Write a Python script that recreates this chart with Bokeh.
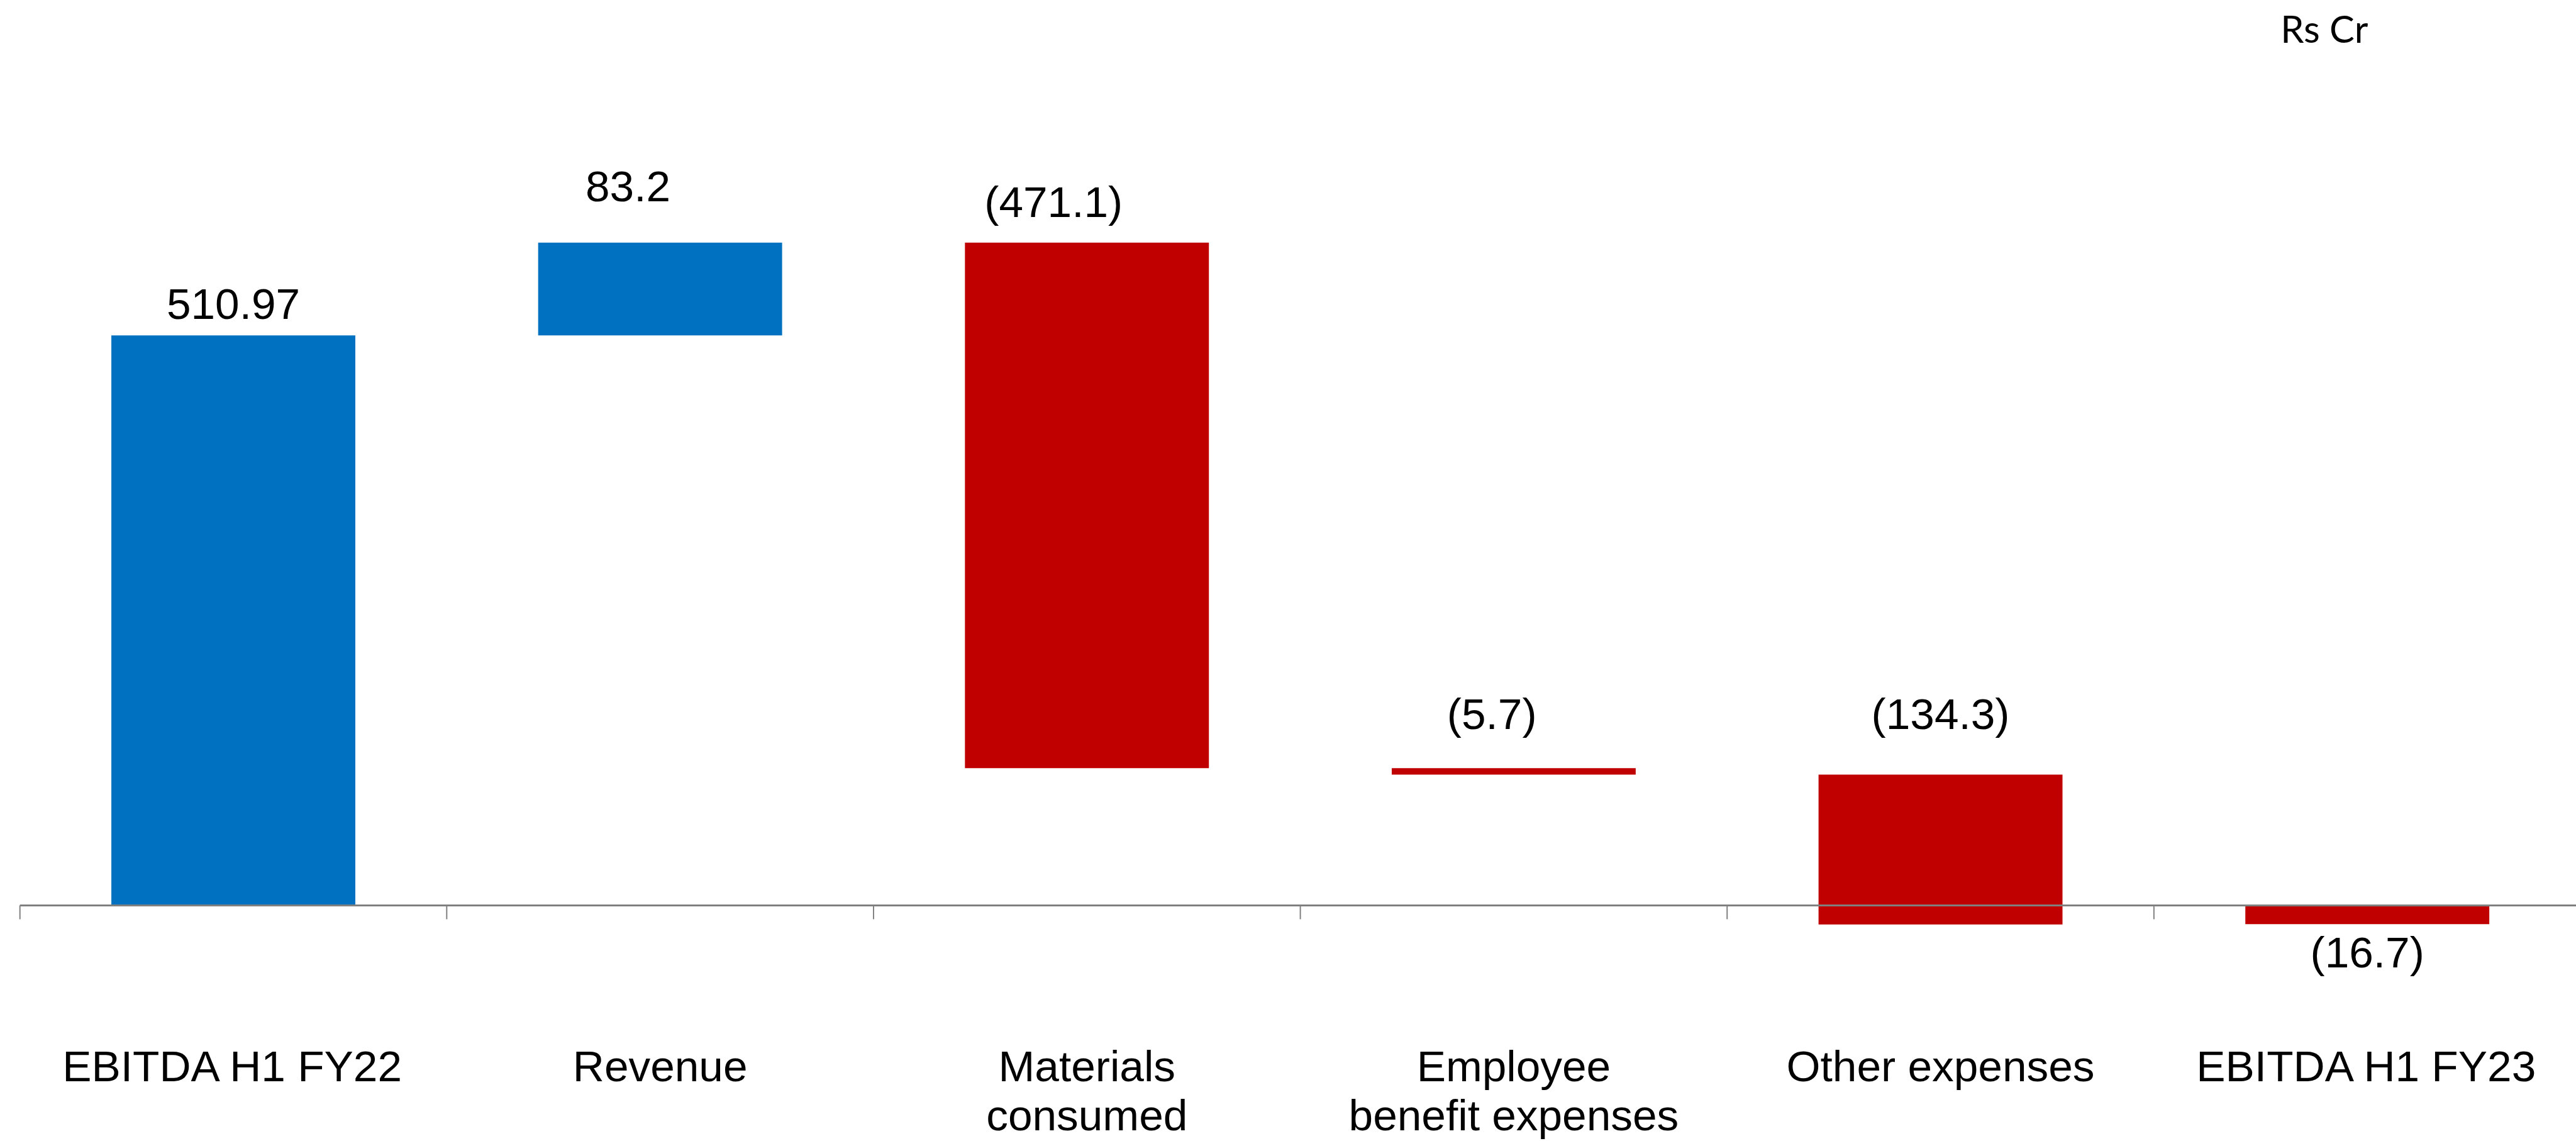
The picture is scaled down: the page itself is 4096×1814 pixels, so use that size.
from bokeh.plotting import figure
from bokeh.models import Range1d
from bokeh.embed import file_html
from bokeh.resources import INLINE
from bokeh.core.properties import value

# ---------------- data ----------------
categories = ["EBITDA H1 FY22", "Revenue", "Materials\nconsumed",
              "Employee\nbenefit expenses", "Other expenses", "EBITDA H1 FY23"]
steps = [510.97, 83.2, -471.1, -5.7, -134.3, -16.7]
is_total = [True, False, False, False, False, True]
value_labels = ["510.97", "83.2", "(471.1)", "(5.7)", "(134.3)", "(16.7)"]
unit_label = "Rs Cr"

# ---------------- layout / style ----------------
S = 0.992
W, H = 4096, 1814
REF_W, REF_H = 4129, 1829          # reference size (px)
ZERO_PX = 1451                      # y of value 0 in reference px
PX_PER_UNIT = 1.7885                # reference px per Rs Cr
CAT_PX = 684.1                      # reference px per category
FIRST_CENTER_PX = 373.5             # x of first category centre
BAR_WIDTH = 0.5716

BLUE = "#0070C0"
RED = "#C00000"
AXIS = "#808080"
FONT = "Liberation Sans"
FS = f"{70 * S:.1f}px"
TEXT_LIFT = 25                      # renderer baseline correction (ref px)

# label placement (reference px): horizontal shift, baseline gap from bar edge
label_dx_px = [0, -51.5, -53.5, -35, 0, 0]
label_gap_px = [25, 65, 40, 62, 72, -70]
cat_line_px = [283, 361]            # baselines of category label lines below zero
tick_len_px = 22


def dy(p):
    return p / PX_PER_UNIT


def dx(p):
    return p / CAT_PX


x0 = -FIRST_CENTER_PX / CAT_PX
x1 = (REF_W - FIRST_CENTER_PX) / CAT_PX
y1 = ZERO_PX / PX_PER_UNIT
y0 = -(REF_H - ZERO_PX) / PX_PER_UNIT

# waterfall geometry
bottoms, tops = [], []
running = 0.0
for v, tot in zip(steps, is_total):
    if tot:
        b, t = 0.0, v
        running = v
    else:
        b, t = running, running + v
        running += v
    bottoms.append(min(b, t))
    tops.append(max(b, t))
colors = [BLUE if v > 0 else RED for v in steps]
xs = list(range(len(categories)))

p = figure(width=W, height=H, x_range=Range1d(x0, x1), y_range=Range1d(y0, y1),
           output_backend="svg", toolbar_location=None,
           x_axis_location=None, y_axis_location=None, min_border=0)
p.grid.visible = False
p.outline_line_color = None
p.background_fill_color = "white"
p.border_fill_color = "white"

p.vbar(x=xs, width=BAR_WIDTH, top=tops, bottom=bottoms,
       fill_color=colors, line_color=None)

# category axis line and boundary ticks
n = len(categories)
p.segment(x0=[-0.5], y0=[0], x1=[n - 0.5], y1=[0], line_color=AXIS, line_width=3 * S)
tick_x = [k - 0.5 for k in range(n + 1)]
p.segment(x0=tick_x, y0=[0] * len(tick_x), x1=tick_x, y1=[-dy(tick_len_px)] * len(tick_x),
          line_color=AXIS, line_width=2 * S)

# value labels
lx, ly = [], []
for i in xs:
    g = label_gap_px[i]
    lx.append(i + dx(label_dx_px[i]))
    base = tops[i] + dy(g) if g > 0 else bottoms[i] + dy(g)
    ly.append(base + dy(TEXT_LIFT))
p.text(x=lx, y=ly, text=value_labels, text_font=value(FONT), text_font_size=FS,
       text_align="center", text_baseline="alphabetic", text_color="black")

# category labels (one text row per line)
for li, off in enumerate(cat_line_px):
    cx, ct = [], []
    for i, c in enumerate(categories):
        parts = c.split("\n")
        if li < len(parts):
            cx.append(i)
            ct.append(parts[li])
    p.text(x=cx, y=[-dy(off) + dy(TEXT_LIFT)] * len(cx), text=ct, text_font=value(FONT),
           text_font_size=FS, text_align="center", text_baseline="alphabetic",
           text_color="black")

# unit label
p.text(x=[dx(3655 - FIRST_CENTER_PX)], y=[dy(ZERO_PX - 65) + dy(20)], text=[unit_label],
       text_font=value("Lato"), text_font_size=f"{60 * S:.1f}px",
       text_align="left", text_baseline="alphabetic", text_color="black")

open("out.html", "w").write(file_html(p, INLINE))
